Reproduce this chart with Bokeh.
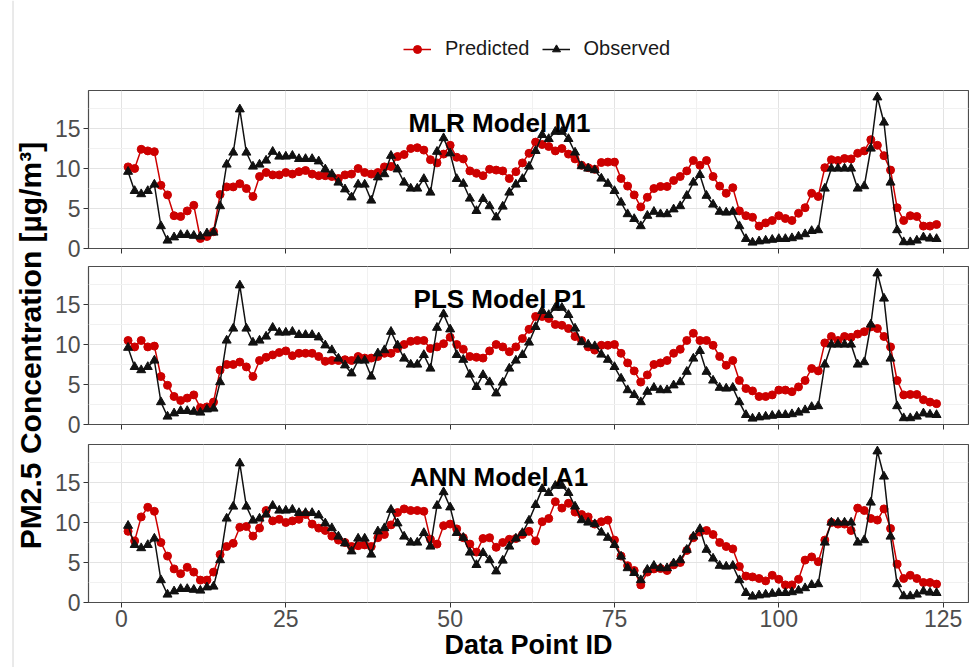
import numpy as np
from bokeh.plotting import figure
from bokeh.models import (Range1d, FixedTicker, Label, Legend, LegendItem,
                          ColumnDataSource, Span)
from bokeh.layouts import row, column
from bokeh.embed import file_html
from bokeh.resources import INLINE

# ---------------- data ----------------
ids = list(range(1, 125))

observed = [9.6, 7.2, 6.8, 7.2, 8.0, 2.8, 1.0, 1.4, 1.7, 1.7,
            1.6, 1.5, 1.9, 2.0, 5.3, 10.5, 12.0, 17.4, 12.0, 10.25,
            10.5, 11.0, 12.1, 11.5, 11.5, 11.6, 11.2, 11.2, 11.2, 10.9,
            9.9, 9.3, 8.25, 7.4, 6.4, 8.0, 8.0, 6.0, 8.9, 9.3,
            11.6, 9.9, 8.25, 7.5, 7.5, 8.7, 7.0, 12.1, 13.8, 11.9,
            8.7, 8.1, 6.25, 4.7, 6.2, 5.3, 3.9, 5.25, 7.0, 8.0,
            8.7, 10.25, 12.2, 14.2, 13.7, 14.6, 14.6, 13.7, 12.0, 10.3,
            10.0, 9.8, 8.75, 8.1, 7.2, 5.75, 4.3, 3.7, 2.8, 4.1,
            4.6, 4.3, 4.3, 4.9, 5.3, 6.6, 8.25, 9.2, 6.6, 5.5,
            4.6, 4.5, 4.6, 2.8, 1.2, 0.75, 0.9, 1.0, 1.1, 1.2,
            1.2, 1.3, 1.5, 1.8, 2.2, 2.3, 7.5, 10.0, 10.0, 10.0,
            10.0, 7.5, 7.8, 12.5, 18.9, 15.75, 8.25, 2.3, 0.8, 0.8,
            1.0, 1.4, 1.25, 1.2]

pred_mlr = [10.2, 10.0, 12.4, 12.2, 12.1, 7.9, 6.7, 4.1, 4.0, 4.7,
            5.4, 1.25, 1.5, 2.1, 6.75, 7.7, 7.7, 8.1, 7.5, 6.5,
            9.0, 9.5, 9.2, 9.2, 9.5, 9.3, 9.6, 9.75, 9.3, 9.1,
            9.1, 9.0, 8.75, 9.2, 9.3, 10.0, 9.5, 9.3, 9.5, 10.2,
            10.25, 11.5, 11.75, 12.5, 12.6, 12.3, 11.1, 10.7, 11.8, 12.9,
            11.4, 11.2, 9.7, 9.4, 9.1, 9.9, 9.8, 9.7, 8.75, 9.6,
            10.7, 11.9, 13.3, 13.0, 12.75, 12.2, 12.5, 11.8, 11.2, 10.4,
            10.1, 9.9, 10.75, 10.8, 10.8, 8.75, 7.8, 6.7, 5.2, 6.4,
            7.5, 7.75, 7.75, 8.5, 9.0, 9.7, 11.0, 10.4, 11.0, 9.0,
            7.8, 6.9, 7.6, 4.7, 4.1, 3.9, 2.8, 3.2, 3.5, 4.1,
            3.75, 3.5, 4.4, 5.1, 6.9, 6.5, 10.1, 11.1, 11.0, 11.25,
            11.2, 11.9, 12.2, 13.6, 12.9, 11.6, 9.8, 5.1, 3.5, 4.1,
            4.0, 2.8, 2.8, 3.0]

pred_pls = [10.5, 9.7, 10.5, 9.7, 9.8, 6.0, 4.9, 3.5, 3.0, 3.3,
            3.7, 2.1, 2.2, 2.8, 6.8, 7.5, 7.5, 7.8, 7.2, 6.0,
            8.0, 8.4, 8.7, 9.0, 9.2, 8.6, 8.9, 8.9, 8.9, 8.5,
            7.9, 8.0, 8.0, 8.1, 8.0, 8.5, 8.3, 8.3, 8.5, 8.9,
            8.9, 9.5, 10.0, 10.4, 10.5, 10.5, 9.5, 9.7, 10.1, 10.9,
            10.0, 9.4, 8.5, 8.4, 8.3, 9.2, 10.0, 9.7, 9.1, 9.7,
            10.75, 11.9, 13.5, 13.5, 13.25, 12.5, 12.4, 12.0, 11.0, 10.5,
            9.7, 9.3, 9.9, 9.9, 10.0, 8.9, 7.7, 6.7, 5.3, 6.2,
            7.5, 7.7, 8.0, 8.9, 9.4, 10.5, 11.4, 10.5, 10.5, 9.9,
            8.5, 7.4, 8.0, 5.5, 4.5, 4.2, 3.5, 3.5, 3.7, 4.3,
            4.3, 4.1, 4.7, 5.5, 7.0, 6.7, 10.2, 11.0, 10.5, 11.0,
            10.9, 11.3, 11.6, 12.2, 12.0, 11.0, 9.7, 5.5, 3.7, 3.75,
            3.75, 3.1, 2.8, 2.6]

pred_ann = [8.9, 7.7, 10.7, 11.9, 11.4, 7.5, 5.8, 4.2, 3.6, 4.4,
            3.8, 2.8, 2.8, 3.8, 6.0, 7.0, 7.4, 9.4, 9.5, 8.3,
            9.3, 11.5, 10.2, 10.4, 10.0, 10.2, 10.4, 11.0, 9.8, 9.3,
            9.0, 8.3, 7.8, 7.5, 7.0, 7.1, 7.2, 7.0, 8.1, 8.5,
            9.7, 11.25, 11.7, 11.5, 11.5, 11.4, 7.9, 7.3, 9.6, 9.8,
            9.2, 8.1, 7.3, 6.3, 8.0, 8.1, 6.9, 7.5, 7.9, 8.0,
            8.5, 8.9, 7.7, 10.1, 10.5, 12.6, 11.8, 12.4, 11.3, 11.0,
            10.7, 9.8, 10.1, 10.3, 7.8, 5.8, 4.6, 4.0, 2.2, 3.8,
            4.2, 4.25, 4.0, 4.7, 5.0, 6.5, 8.1, 8.8, 9.0, 8.5,
            7.5, 7.0, 6.7, 4.5, 3.3, 3.2, 3.0, 2.7, 3.4, 2.9,
            2.2, 2.2, 2.9, 5.3, 5.7, 5.1, 7.8, 10.0, 9.8, 9.8,
            9.0, 11.8, 11.5, 10.5, 10.3, 11.7, 9.25, 4.8, 3.0, 3.4,
            3.0, 2.5, 2.5, 2.3]

panel_titles = ["MLR Model M1", "PLS Model P1", "ANN Model A1"]
series_labels = ["Predicted", "Observed"]
x_ticks = [0, 25, 50, 75, 100, 125]
x_minor = [12.5, 37.5, 62.5, 87.5, 112.5]
y_ticks = [0, 5, 10, 15]
y_minor = [2.5, 7.5, 12.5, 17.5]
y_title = "PM2.5 Concentration [\u00b5g/m\u00b3]"
x_title = "Data Point ID"

# ---------------- style ----------------
FONT = "Liberation Sans"
RED = "#cd0000"
BLACK = "#111111"
LEFT_W = 48          # width of the y-title strip
PW = 969 - LEFT_W    # width of panel figures
FRAME_H = 158
X_RANGE = (-5.02, 128.86)
Y_RANGE = (0, 19.75)


def style_common(f):
    f.background_fill_color = "white"
    f.border_fill_color = "white"


def add_series(f, src):
    f.line("x", "pred", source=src, line_color=RED, line_width=1.5)
    f.scatter("x", "pred", source=src, marker="circle", size=8,
              fill_color=RED, line_color=RED)
    f.line("x", "obs", source=src, line_color=BLACK, line_width=1.5)
    f.scatter("x", "obs", source=src, marker="triangle", size=9,
              fill_color=BLACK, line_color=BLACK)


def make_panel(pred, title, height, top, bottom, bottom_panel):
    p = figure(width=PW, height=height, title=None,
               x_range=Range1d(*X_RANGE), y_range=Range1d(*Y_RANGE),
               output_backend="svg", toolbar_location=None,
               min_border_left=40, min_border_right=1,
               min_border_top=top, min_border_bottom=bottom)
    style_common(p)
    p.outline_line_color = "#4d4d4d"
    p.outline_line_width = 1.2

    p.xaxis.ticker = FixedTicker(ticks=x_ticks, minor_ticks=x_minor)
    p.yaxis.ticker = FixedTicker(ticks=y_ticks, minor_ticks=y_minor)
    for ax in (p.xaxis[0], p.yaxis[0]):
        ax.axis_line_color = None
        ax.major_tick_line_color = "#333333"
        ax.major_tick_out = 5
        ax.major_tick_in = 0
        ax.minor_tick_line_color = None
        ax.major_label_text_font = FONT
        ax.major_label_text_color = "#4d4d4d"
        ax.major_label_text_font_size = "23px"
    p.yaxis.major_label_standoff = 3
    if bottom_panel:
        p.xaxis.major_label_standoff = 2
        p.xaxis.axis_label = x_title
        p.xaxis.axis_label_standoff = 0
        p.xaxis.axis_label_text_font = FONT
        p.xaxis.axis_label_text_font_style = "bold"
        p.xaxis.axis_label_text_font_size = "27px"
        p.xaxis.axis_label_text_color = "black"
    else:
        p.xaxis.major_label_overrides = {t: "" for t in x_ticks}
        p.xaxis.major_label_standoff = 0

    for g in (p.xgrid[0], p.ygrid[0]):
        g.grid_line_color = "#e3e3e3"
        g.grid_line_width = 1
        g.minor_grid_line_color = "#f1f1f1"
        g.minor_grid_line_width = 1

    src = ColumnDataSource(dict(x=ids, pred=pred, obs=observed))
    add_series(p, src)

    p.add_layout(Label(x=411, y=FRAME_H - 32, x_units="screen", y_units="screen",
                       text=title, text_align="center", text_baseline="alphabetic",
                       text_font=FONT, text_font_style="bold",
                       text_font_size="26px", text_color="black"))
    return p


# legend strip (series drawn outside its visible range; only the legend shows)
lf = figure(width=PW, height=68, title=None,
            x_range=Range1d(-1000, -999), y_range=Range1d(-1000, -999),
            x_axis_type=None, y_axis_type=None, min_border=0,
            output_backend="svg", toolbar_location=None)
style_common(lf)
lf.outline_line_color = None
lsrc = ColumnDataSource(dict(x=ids, pred=pred_mlr, obs=observed))
r1 = lf.line("x", "pred", source=lsrc, line_color=RED, line_width=1.5)
r2 = lf.scatter("x", "pred", source=lsrc, marker="circle", size=8, fill_color=RED, line_color=RED)
r3 = lf.line("x", "obs", source=lsrc, line_color=BLACK, line_width=1.5)
r4 = lf.scatter("x", "obs", source=lsrc, marker="triangle", size=9, fill_color=BLACK, line_color=BLACK)
legend = Legend(items=[LegendItem(label=series_labels[0], renderers=[r1, r2]),
                       LegendItem(label=series_labels[1], renderers=[r3, r4])],
                orientation="horizontal", location=(315, 8),
                label_text_font=FONT, label_text_font_size="20px",
                label_text_color="#1a1a1a", glyph_width=28, glyph_height=20,
                label_standoff=14, spacing=12, padding=0, margin=0,
                border_line_color=None, background_fill_alpha=0)
lf.add_layout(legend, "center")

p1 = make_panel(pred_mlr, panel_titles[0], 193, 22, 13, False)
p2 = make_panel(pred_pls, panel_titles[1], 176, 5, 13, False)
p3 = make_panel(pred_ann, panel_titles[2], 230, 7, 65, True)

# y-axis title strip
yt = figure(width=LEFT_W, height=667, title=None,
            x_range=Range1d(0, LEFT_W), y_range=Range1d(0, 667),
            x_axis_type=None, y_axis_type=None, min_border=0,
            output_backend="svg", toolbar_location=None)
style_common(yt)
yt.outline_line_color = None
yt.add_layout(Span(location=12.5, dimension="height", line_color="#d4d4d4", line_width=1))
yt.add_layout(Label(x=30, y=667 - 345, text=y_title, angle=np.pi / 2, text_align="center",
                    text_baseline="middle", text_font=FONT, text_font_style="bold",
                    text_font_size="30px", text_color="black"))

layout = row(yt, column(lf, p1, p2, p3, spacing=0), spacing=0)

open("out.html", "w").write(file_html(layout, INLINE, title="PM2.5"))
